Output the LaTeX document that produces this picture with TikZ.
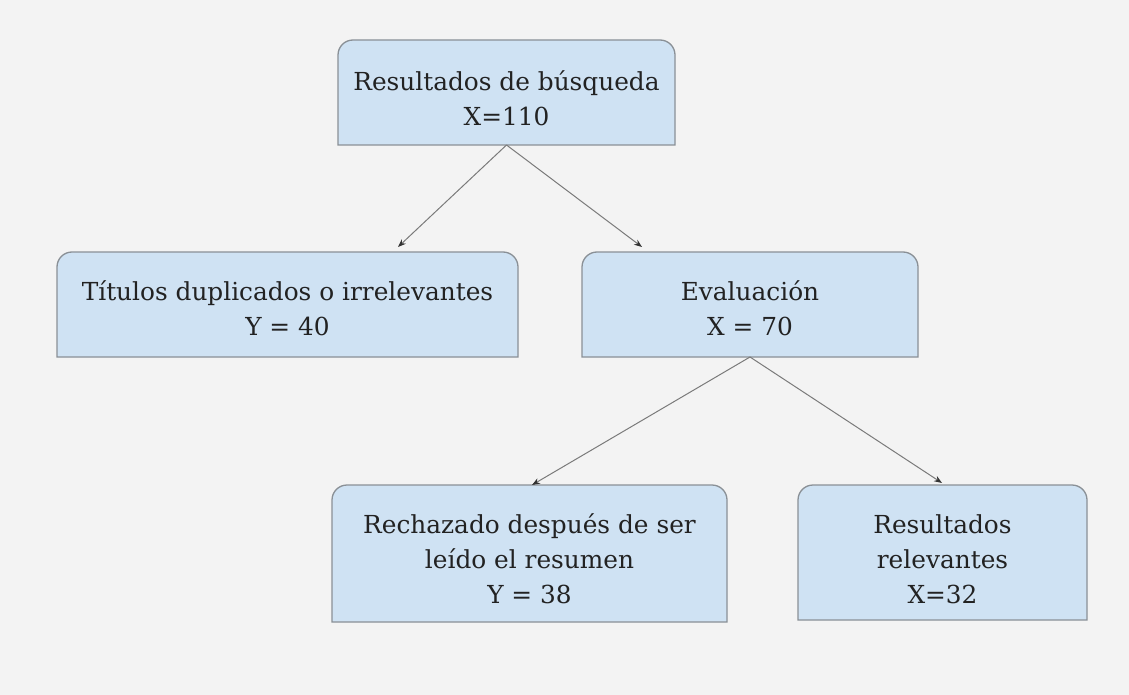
\documentclass[tikz,border=0pt]{standalone}
\usepackage{fontspec}
\setmainfont{DejaVu Serif}
\usetikzlibrary{arrows.meta}
\definecolor{pagebg}{HTML}{F3F3F3}
\definecolor{boxfill}{HTML}{CFE2F3}
\definecolor{boxline}{HTML}{8A9096}
\definecolor{arrline}{HTML}{7A7A7A}
\definecolor{txtcol}{HTML}{222222}
\pgfdeclarelayer{bg}
\pgfdeclarelayer{boxes}
\pgfsetlayers{bg,boxes,main}
\tikzset{
  boxnode/.style={draw=none, inner sep=0pt, outer sep=0pt, minimum width=#1},
  boxtext/.style={align=center, text=txtcol, font=\fontsize{24.8}{35}\selectfont, inner sep=0pt},
  boxshape/.style={draw=boxline, fill=boxfill, line width=1.3pt},
  conn/.style={draw=arrline, line width=1pt, -{Stealth[length=8pt,width=6pt,color=black!80]}}
}
\newcommand{\topround}[1]{%
  \begin{pgfonlayer}{boxes}
  \path[boxshape] (#1.south west) -- ([yshift=-15pt]#1.north west)
    arc[start angle=180,end angle=90,radius=15pt]
    -- ([xshift=-15pt]#1.north east)
    arc[start angle=90,end angle=0,radius=15pt]
    -- (#1.south east) -- cycle;
  \end{pgfonlayer}}
\begin{document}
\begin{tikzpicture}[x=1pt,y=-1pt]
\begin{pgfonlayer}{bg}
\fill[pagebg] (0,0) rectangle (1129,695);
\end{pgfonlayer}
\useasboundingbox (0,0) rectangle (1129,695);

% boxes
\node[boxnode=337pt, minimum height=105pt] (top) at (506.5,92.5) {};
\node[boxnode=461pt, minimum height=105pt] (tit) at (287.5,304.5) {};
\node[boxnode=336pt, minimum height=105pt] (eva) at (750,304.5) {};
\node[boxnode=395pt, minimum height=137pt] (rec) at (529.5,553.5) {};
\node[boxnode=289pt, minimum height=135pt] (rel) at (942.5,552.5) {};
\topround{top}\topround{tit}\topround{eva}\topround{rec}\topround{rel}

% texts
\node[boxtext] (topt) at ([yshift=-6pt]top.center) {Resultados de búsqueda\\X=110};
\node[boxtext] (titt) at ([yshift=-4pt]tit.center) {Títulos duplicados o irrelevantes\\Y = 40};
\node[boxtext] (evat) at ([yshift=-4pt]eva.center) {Evaluación\\X = 70};
\node[boxtext] (rect) at ([yshift=-5pt]rec.center) {Rechazado después de ser\\leído el resumen\\Y = 38};
\node[boxtext] (relt) at ([yshift=-6.5pt]rel.center) {Resultados\\relevantes\\X=32};

% connector ends
\coordinate (e1) at (398,247);
\coordinate (e2) at (642,247);
\coordinate (e3) at (532,485);
\coordinate (e4) at (942,483);

\draw[conn] (top.south) -- (e1);
\draw[conn] (top.south) -- (e2);
\draw[conn] (eva.south) -- (e3);
\draw[conn] (eva.south) -- (e4);
\end{tikzpicture}
\end{document}
